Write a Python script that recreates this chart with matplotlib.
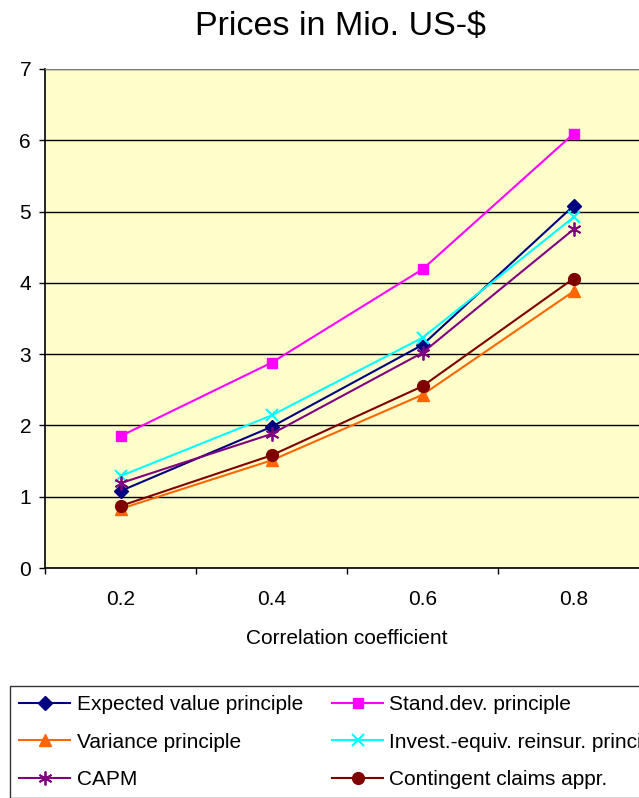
import matplotlib.pyplot as plt
from matplotlib.ticker import FixedLocator

plt.rcParams['font.family'] = ['Liberation Sans', 'DejaVu Sans']

# data
corr = ["0.2", "0.4", "0.6", "0.8"]
expected_value = [1.08, 1.98, 3.13, 5.08]
stand_dev = [1.85, 2.88, 4.19, 6.09]
variance = [0.83, 1.51, 2.43, 3.88]
invest_equiv = [1.29, 2.14, 3.23, 4.92]
capm = [1.19, 1.88, 3.02, 4.75]
contingent = [0.87, 1.58, 2.55, 4.06]

W, H = 639, 798
fig = plt.figure(figsize=(W / 100, H / 100), dpi=100)

# plot area runs past the right edge of the picture, like the original
left, right, top, bottom = 45, 649, 69, 568
ax = fig.add_axes([left / W, 1 - bottom / H, (right - left) / W, (bottom - top) / H])
ax.set_facecolor("#FFFFCC")

x = range(len(corr))
l_exp, = ax.plot(x, expected_value, color="#000080", marker="D", ms=7.5, lw=1.5, label="Expected value principle")
l_std, = ax.plot(x, stand_dev, color="#FF00FF", marker="s", ms=7.5, lw=1.5, label="Stand.dev. principle")
l_var, = ax.plot(x, variance, color="#FF6600", marker="^", ms=8.5, lw=1.5, label="Variance principle")
l_inv, = ax.plot(x, invest_equiv, color="#00FFFF", marker="x", ms=9, mew=1.5, lw=1.5, label="Invest.-equiv. reinsur. principle")
l_capm, = ax.plot(x, capm, color="#800080", marker=(6, 2, 0), ms=10, mew=1.3, lw=1.5, label="CAPM")
l_cont, = ax.plot(x, contingent, color="#800000", marker="o", ms=8.5, lw=1.5, label="Contingent claims appr.")

ax.set_xlim(-0.5, 3.5)
ax.set_ylim(0, 7)
ax.set_yticks(range(8))
ax.yaxis.grid(True, color="black", lw=1)
ax.set_axisbelow(True)

ax.set_xticks(list(x))
ax.set_xticklabels(corr)
ax.xaxis.set_minor_locator(FixedLocator([-0.5, 0.5, 1.5, 2.5, 3.5]))
ax.tick_params(axis="x", which="major", length=0, pad=15.5, labelsize=15)
ax.tick_params(axis="x", which="minor", length=4, width=1, direction="out")
ax.tick_params(axis="y", length=4, width=1, pad=6, labelsize=15)

for s in ["left", "bottom"]:
    ax.spines[s].set_color("black")
    ax.spines[s].set_linewidth(1.2)
ax.spines["top"].set_color("#808080")
ax.spines["right"].set_color("#808080")

fig.text(347 / W, 1 - 639 / H, "Correlation coefficient", ha="center", va="center", fontsize=15)
fig.text(340 / W, 1 - 27 / H, "Prices in Mio. US-$", ha="center", va="center", fontsize=24.5)

# legend is filled column by column, so list the lines in that order
handles = [l_exp, l_var, l_capm, l_std, l_inv, l_cont]
leg = fig.legend(handles=handles, loc="upper left", bbox_to_anchor=(10 / W, 1 - 686 / H), ncol=2,
                 fontsize=15, frameon=True, fancybox=False, edgecolor="black",
                 handlelength=2.45, handletextpad=0.3, columnspacing=1.4,
                 labelspacing=0.88, borderpad=0.45, borderaxespad=0)
leg.get_frame().set_linewidth(1)

fig.savefig("out.png", dpi=100)
